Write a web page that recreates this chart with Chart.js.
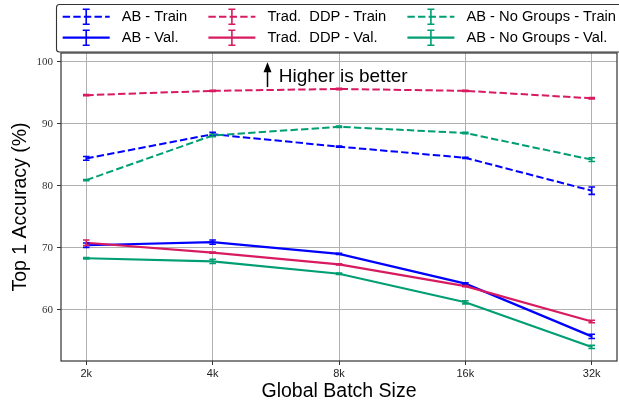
<!DOCTYPE html>
<html>
<head>
<meta charset="utf-8">
<script src="https://cdn.jsdelivr.net/npm/chart.js@4.4.1/dist/chart.umd.min.js"></script>
<style>
  html, body { margin: 0; padding: 0; background: #fff; }
  #wrap { width: 619px; height: 407px; }
</style>
</head>
<body>
<div id="wrap"><canvas id="chart" width="619" height="407"></canvas></div>
<script>
// x categories (log2 spaced, drawn evenly)
const batchSizes = ['2k', '4k', '8k', '16k', '32k'];
const yTicks = [60, 70, 80, 90, 100];

// top-1 accuracy (%)
const abTrain      = [84.4, 88.3, 86.3, 84.5, 79.2];
const abTrainErr   = [0.3, 0.3, 0.1, 0.1, 0.6];
const abVal        = [70.4, 70.9, 69.0, 64.2, 55.7];
const abValErr     = [0.35, 0.35, 0.1, 0.15, 0.35];
const ddpTrain     = [94.6, 95.3, 95.6, 95.3, 94.1];
const ddpTrainErr  = [0.1, 0.1, 0.1, 0.1, 0.1];
const ddpVal       = [70.8, 69.2, 67.3, 63.8, 58.1];
const ddpValErr    = [0.45, 0.1, 0.1, 0.1, 0.2];
const ngTrain      = [80.9, 88.1, 89.5, 88.5, 84.2];
const ngTrainErr   = [0.1, 0.2, 0.1, 0.1, 0.3];
const ngVal        = [68.3, 67.8, 65.8, 61.2, 54.0];
const ngValErr     = [0.1, 0.35, 0.1, 0.25, 0.25];

const BLUE = '#0000ff', PINK = '#d81b60', GREEN = '#009e73';
const SANS = '"Liberation Sans", Arial, sans-serif';
const SERIF = '"Liberation Serif", serif';
const DASH = [7.4, 3.2];

const pts = arr => arr.map((v, i) => ({ x: i, y: v }));

function series(label, vals, errs, color, dashed, order) {
  return {
    label, data: pts(vals), errors: errs,
    borderColor: color, backgroundColor: color,
    borderWidth: dashed ? 2 : 2.2,
    borderDash: dashed ? DASH : [],
    pointRadius: 0, tension: 0, fill: false, order
  };
}

// datasets in legend order (row-major: train row, val row)
const datasets = [
  series('AB - Train', abTrain, abTrainErr, BLUE, true, 3),
  series('Trad.  DDP - Train', ddpTrain, ddpTrainErr, PINK, true, 2),
  series('AB - No Groups - Train', ngTrain, ngTrainErr, GREEN, true, 1),
  series('AB - Val.', abVal, abValErr, BLUE, false, 3),
  series('Trad.  DDP - Val.', ddpVal, ddpValErr, PINK, false, 2),
  series('AB - No Groups - Val.', ngVal, ngValErr, GREEN, false, 1)
];

const errorBars = {
  id: 'errorBars',
  afterDatasetsDraw(chart) {
    const { ctx, scales: { x, y } } = chart;
    chart.data.datasets.forEach(ds => {
      ctx.save();
      ctx.strokeStyle = ds.borderColor;
      ctx.lineWidth = 1.6;
      ds.data.forEach((p, i) => {
        const e = ds.errors[i];
        const px = x.getPixelForValue(p.x);
        const t = y.getPixelForValue(p.y + e), b = y.getPixelForValue(p.y - e);
        ctx.beginPath();
        ctx.moveTo(px, t); ctx.lineTo(px, b);
        ctx.moveTo(px - 3.3, t); ctx.lineTo(px + 3.3, t);
        ctx.moveTo(px - 3.3, b); ctx.lineTo(px + 3.3, b);
        ctx.stroke();
      });
      ctx.restore();
    });
  }
};

// frame around the plot + "Higher is better" note
const frameAndNote = {
  id: 'frameAndNote',
  afterDatasetsDraw(chart) {
    const { ctx, chartArea: a, scales: { x, y } } = chart;
    ctx.save();
    ctx.strokeStyle = '#333';
    ctx.lineWidth = 1.2;
    ctx.strokeRect(a.left, a.top, a.right - a.left, a.bottom - a.top);

    const ax = Math.round(x.getPixelForValue(1.43)) + 0.5;
    const tip = y.getPixelForValue(99.9), base = y.getPixelForValue(95.9);
    ctx.strokeStyle = '#000';
    ctx.fillStyle = '#000';
    ctx.lineWidth = 1.5;
    ctx.beginPath();
    ctx.moveTo(ax, base); ctx.lineTo(ax, tip + 8);
    ctx.stroke();
    ctx.beginPath();
    ctx.moveTo(ax, tip); ctx.lineTo(ax - 4, tip + 10); ctx.lineTo(ax + 4, tip + 10);
    ctx.closePath();
    ctx.fill();

    ctx.font = '19px ' + SANS;
    ctx.textBaseline = 'middle';
    ctx.textAlign = 'left';
    ctx.fillText('Higher is better', x.getPixelForValue(1.523), y.getPixelForValue(97.6));
    ctx.restore();
  }
};

const boxLegend = {
  id: 'boxLegend',
  afterDraw(chart) {
    const ctx = chart.ctx;
    const colX = [62.7, 208.4, 407.4];
    const rowY = [16.7, 37.7];
    ctx.save();
    ctx.fillStyle = '#fff';
    ctx.strokeStyle = '#333';
    ctx.lineWidth = 1.1;
    ctx.beginPath();
    ctx.roundRect(56.5, 4.5, 600, 47.5, 3);
    ctx.fill();
    ctx.stroke();
    chart.data.datasets.forEach((ds, i) => {
      const cx = colX[i % 3], cy = rowY[Math.floor(i / 3)];
      ctx.strokeStyle = ds.borderColor;
      ctx.lineWidth = ds.borderWidth;
      ctx.setLineDash(ds.borderDash);
      ctx.beginPath();
      ctx.moveTo(cx, cy); ctx.lineTo(cx + 47, cy);
      ctx.stroke();
      ctx.setLineDash([]);
      ctx.lineWidth = 1.6;
      const mx = cx + 23.5;
      ctx.beginPath();
      ctx.moveTo(mx, cy - 7.5); ctx.lineTo(mx, cy + 7.5);
      ctx.moveTo(mx - 3.5, cy - 7.5); ctx.lineTo(mx + 3.5, cy - 7.5);
      ctx.moveTo(mx - 3.5, cy + 7.5); ctx.lineTo(mx + 3.5, cy + 7.5);
      ctx.stroke();
      ctx.fillStyle = '#000';
      ctx.font = '14.7px ' + SANS;
      ctx.textBaseline = 'middle';
      ctx.fillText(ds.label, cx + 59, cy + 0.5);
    });
    ctx.restore();
  }
};

new Chart(document.getElementById('chart'), {
  type: 'line',
  data: { datasets },
  plugins: [errorBars, frameAndNote, boxLegend],
  options: {
    responsive: false,
    animation: false,
    devicePixelRatio: 1,
    layout: { padding: { top: 53, right: 2, left: 0, bottom: 0 } },
    plugins: { legend: { display: false }, tooltip: { enabled: false } },
    scales: {
      x: {
        type: 'linear',
        min: -0.2, max: 4.2,
        afterBuildTicks: s => { s.ticks = batchSizes.map((_, i) => ({ value: i })); },
        afterFit: s => { s.height = 46; },
        ticks: {
          callback: v => batchSizes[v],
          font: { family: SANS, size: 11 },
          color: '#222',
          padding: 2,
          maxRotation: 0
        },
        grid: { color: '#b0b0b0', lineWidth: 1, tickLength: 4, tickColor: '#333', tickWidth: 1 },
        border: { display: false },
        title: {
          display: true,
          text: 'Global Batch Size',
          font: { family: SANS, size: 19.5 },
          color: '#000',
          padding: { top: 0, bottom: 4 }
        }
      },
      y: {
        type: 'linear',
        min: 51.73, max: 101.4,
        afterBuildTicks: s => { s.ticks = yTicks.map(v => ({ value: v })); },
        afterFit: s => { s.width = 61; },
        ticks: {
          font: { family: SERIF, size: 11 },
          color: '#333',
          padding: 4
        },
        grid: { color: '#b0b0b0', lineWidth: 1, tickLength: 4, tickColor: '#333', tickWidth: 1 },
        border: { display: false },
        title: {
          display: true,
          text: 'Top 1 Accuracy (%)',
          font: { family: SANS, size: 19.5 },
          color: '#000',
          padding: { top: 9, bottom: 0 }
        }
      }
    }
  }
});
</script>
</body>
</html>
